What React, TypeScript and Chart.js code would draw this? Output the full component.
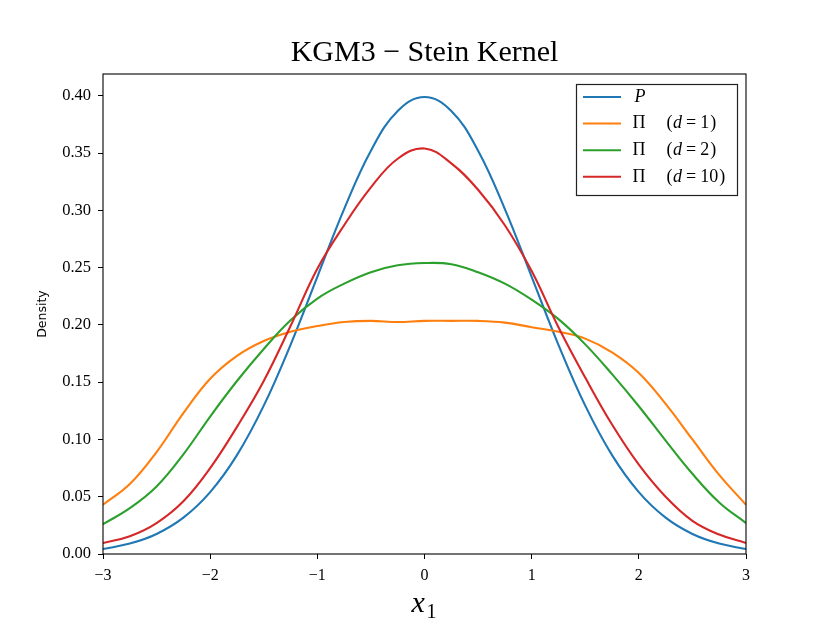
import React, { useEffect, useRef } from 'react';
import Chart from 'chart.js/auto';

// sample grid on the x axis
const X_VALUES = [
  -3, -2.75, -2.5, -2.25, -2, -1.75, -1.5, -1.25, -1, -0.75, -0.5, -0.25, 0,
  0.25, 0.5, 0.75, 1, 1.25, 1.5, 1.75, 2, 2.25, 2.5, 2.75, 3,
];

const P_VALUES = [
  0.0044, 0.0091, 0.0175, 0.0317, 0.054, 0.0863, 0.1295, 0.1826, 0.242, 0.3011, 0.3521, 0.3867, 0.3989,
  0.3867, 0.3521, 0.3011, 0.242, 0.1826, 0.1295, 0.0863, 0.054, 0.0317, 0.0175, 0.0091, 0.0044,
];

const PI_D1_VALUES = [
  0.043, 0.061, 0.089, 0.123, 0.153, 0.173, 0.186, 0.194, 0.199, 0.2025, 0.2035, 0.2025, 0.2035,
  0.2035, 0.2035, 0.202, 0.198, 0.194, 0.188, 0.176, 0.158, 0.131, 0.1, 0.069, 0.043,
];

const PI_D2_VALUES = [
  0.026, 0.04, 0.059, 0.087, 0.12, 0.151, 0.179, 0.204, 0.223, 0.236, 0.246, 0.252, 0.254,
  0.253, 0.246, 0.236, 0.222, 0.205, 0.183, 0.157, 0.129, 0.099, 0.07, 0.045, 0.027,
];

const PI_D10_VALUES = [
  0.0096, 0.0155, 0.027, 0.046, 0.075, 0.111, 0.151, 0.199, 0.249, 0.287, 0.32, 0.345, 0.354,
  0.341, 0.318, 0.287, 0.247, 0.198, 0.154, 0.113, 0.078, 0.05, 0.029, 0.017, 0.0096,
];

const X_TICKS = [-3, -2, -1, 0, 1, 2, 3];
const Y_TICKS = [0, 0.05, 0.1, 0.15, 0.2, 0.25, 0.3, 0.35, 0.4];

const SERIES = [
  { label: 'P', d: '', values: P_VALUES, color: '#1f77b4' },
  { label: 'Π', d: '1', values: PI_D1_VALUES, color: '#ff7f0e' },
  { label: 'Π', d: '2', values: PI_D2_VALUES, color: '#2ca02c' },
  { label: 'Π', d: '10', values: PI_D10_VALUES, color: '#d62728' },
];

const SERIF = '"Liberation Serif", "Times New Roman", serif';

// black frame around the axes, drawn over the lines like matplotlib spines
const frame = {
  id: 'frame',
  afterDatasetsDraw(chart: Chart) {
    const { ctx, chartArea: a } = chart;
    ctx.save();
    ctx.strokeStyle = '#000';
    ctx.lineWidth = 1.1;
    ctx.strokeRect(a.left, a.top, a.right - a.left, a.bottom - a.top);
    ctx.restore();
  },
};

// legend box in the upper right, with the math-style labels
const mathLegend = {
  id: 'mathLegend',
  afterDraw(chart: Chart) {
    const { ctx, chartArea: a } = chart;
    const right = a.right - 8.5;
    const top = a.top + 10.5;
    const w = 161;
    const h = 111;
    const left = right - w;
    ctx.save();
    ctx.fillStyle = '#fff';
    ctx.fillRect(left, top, w, h);
    ctx.strokeStyle = '#222';
    ctx.lineWidth = 1.2;
    ctx.strokeRect(left, top, w, h);

    SERIES.forEach((s, i) => {
      const y = top + 12.5 + i * 26.6;
      ctx.strokeStyle = s.color;
      ctx.lineWidth = 2;
      ctx.beginPath();
      ctx.moveTo(left + 6.5, y);
      ctx.lineTo(left + 44.5, y);
      ctx.stroke();

      ctx.fillStyle = '#000';
      ctx.textBaseline = 'middle';
      ctx.textAlign = 'left';
      if (!s.d) {
        ctx.font = `italic 18px ${SERIF}`;
        ctx.fillText(s.label, left + 58, y);
        return;
      }
      ctx.font = `18px ${SERIF}`;
      ctx.fillText(s.label, left + 56, y);
      let x = left + 90;
      ctx.fillText('(', x, y);
      x += ctx.measureText('(').width + 0.5;
      ctx.font = `italic 18px ${SERIF}`;
      ctx.fillText('d', x, y);
      x += ctx.measureText('d').width + 4;
      ctx.font = `18px ${SERIF}`;
      ctx.fillText('=', x, y);
      x += ctx.measureText('=').width + 4;
      ctx.fillText(s.d, x, y);
      x += ctx.measureText(s.d).width + 1;
      ctx.fillText(')', x, y);
    });
    ctx.restore();
  },
};

// x axis label: italic x with subscript 1
const xLabel = {
  id: 'xLabel',
  afterDraw(chart: Chart) {
    const { ctx, chartArea: a } = chart;
    const cx = (a.left + a.right) / 2;
    ctx.save();
    ctx.fillStyle = '#000';
    ctx.textBaseline = 'alphabetic';
    ctx.textAlign = 'left';
    ctx.font = `italic 30px ${SERIF}`;
    ctx.fillText('x', cx - 13, a.bottom + 58);
    ctx.font = `20px ${SERIF}`;
    ctx.fillText('1', cx + 2, a.bottom + 64);
    ctx.restore();
  },
};

const App = () => {
  const canvasRef = useRef<HTMLCanvasElement>(null);

  useEffect(() => {
    document.body.style.margin = '0';
    const canvas = canvasRef.current;
    let chart: Chart | null = null;

    if (canvas) {
      chart = new Chart(canvas, {
        type: 'line',
        data: {
          datasets: SERIES.map((s, i) => ({
            label: s.d ? `${s.label} (d = ${s.d})` : s.label,
            data: X_VALUES.map((x, j) => ({ x, y: s.values[j] })),
            borderColor: s.color,
            backgroundColor: s.color,
            borderWidth: 2.1,
            pointRadius: 0,
            tension: 0.4,
            order: SERIES.length - 1 - i,
          })),
        },
        options: {
          animation: false,
          responsive: true,
          maintainAspectRatio: false,
          layout: { padding: { left: 0, right: 84, top: 0, bottom: 0 } },
          plugins: {
            legend: { display: false },
            tooltip: { enabled: false },
            title: {
              display: true,
              fullSize: false,
              text: 'KGM3 − Stein Kernel',
              color: '#000',
              font: { family: SERIF, size: 30, weight: 'normal', lineHeight: 1.2 },
              padding: { top: 35, bottom: 3 },
            },
          },
          scales: {
            x: {
              type: 'linear',
              min: -3,
              max: 3,
              afterBuildTicks: (scale) => {
                scale.ticks = X_TICKS.map((value) => ({ value }));
              },
              afterFit: (scale) => {
                scale.height = 69;
              },
              ticks: {
                color: '#000',
                padding: 7,
                font: { family: SERIF, size: 16 },
                callback: (v) => String(v).replace('-', '−'),
              },
              grid: { drawOnChartArea: false, drawTicks: true, tickLength: 5, color: '#000' },
              border: { display: false },
            },
            y: {
              type: 'linear',
              min: 0,
              max: 0.419,
              afterBuildTicks: (scale) => {
                scale.ticks = Y_TICKS.map((value) => ({ value }));
              },
              afterFit: (scale) => {
                scale.width = 103;
              },
              ticks: {
                color: '#000',
                padding: 7,
                font: { family: SERIF, size: 16.5 },
                callback: (v) => Number(v).toFixed(2),
              },
              grid: { drawOnChartArea: false, drawTicks: true, tickLength: 5, color: '#000' },
              border: { display: false },
              title: {
                display: true,
                text: 'Density',
                color: '#000',
                font: { family: '"DejaVu Sans", sans-serif', size: 12.5 },
                padding: { top: 35, bottom: 0 },
              },
            },
          },
        },
        plugins: [frame, mathLegend, xLabel],
      });
    }

    return () => {
      if (chart) {
        chart.destroy();
      }
    };
  }, []);

  return (
    <div style={{ width: 830, height: 623, position: 'relative', background: '#fff' }}>
      <canvas ref={canvasRef}></canvas>
    </div>
  );
};

export default App;
